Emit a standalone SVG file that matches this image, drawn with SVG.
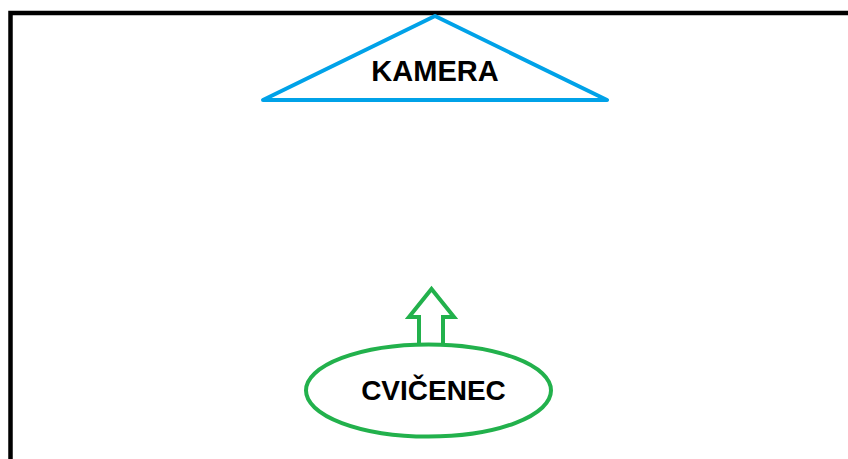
<svg xmlns="http://www.w3.org/2000/svg" width="848" height="459" viewBox="0 0 848 459">
<style>
.lbl{font-family:"Liberation Sans",Arial,sans-serif;font-weight:bold;fill:#000;text-anchor:middle}
.blue{fill:none;stroke:#00A2E8;stroke-width:4;stroke-linejoin:round;stroke-linecap:round}
.green{fill:none;stroke:#22B14C;stroke-width:4}
</style>
<rect width="848" height="459" fill="#fff"/>
<path d="M10.5 459 V13 H848" fill="none" stroke="#000" stroke-width="4.5"/>
<g id="kamera">
<polygon class="blue" points="435,16 607,100 263,100"/>
<text class="lbl" x="435" y="81" font-size="29">KAMERA</text>
</g>
<g id="cvicenec">
<ellipse class="green" cx="428.5" cy="390.5" rx="122.5" ry="46"/>
<text class="lbl" x="433.5" y="400" font-size="28">CVIČENEC</text>
</g>
<g id="connectors">
<path class="green" d="M419 345 V317 H409 L431.5 289 L454 317 H443 V345" stroke-linejoin="miter"/>
</g>
</svg>
